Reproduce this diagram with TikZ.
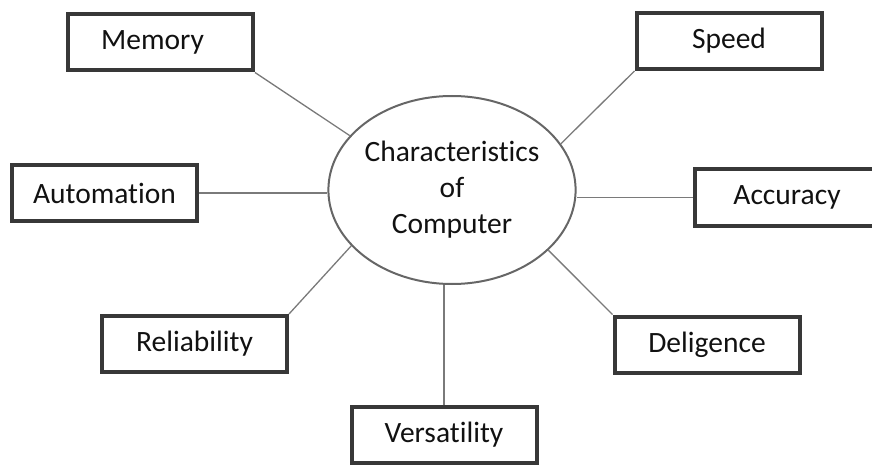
\documentclass[tikz,border=0pt]{standalone}
\usepackage{fontspec}
\setmainfont{Carlito}[Ligatures={NoCommon}]
\usetikzlibrary{shapes.geometric}
\definecolor{boxline}{HTML}{383838}
\definecolor{linkline}{HTML}{7A7A7A}
\definecolor{ovalline}{HTML}{666666}
\definecolor{inktext}{HTML}{111111}
\tikzset{
  charbox/.style={draw=boxline, line width=4pt, minimum width=185pt, minimum height=56pt,
    inner sep=0pt, text=inktext, font=\fontsize{29.5}{36}\selectfont},
  charoval/.style={ellipse, draw=ovalline, line width=2pt, minimum width=246pt, minimum height=188pt,
    inner sep=0pt, align=center, text=inktext, font=\fontsize{29.5}{36}\selectfont},
  link/.style={draw=linkline, line width=1.3pt}
}

\begin{document}
\begin{tikzpicture}[x=1pt, y=-1pt]
\useasboundingbox (0,0) rectangle (872,465);
\clip (0,0) rectangle (872,465);
% centre
\node[charoval] (char) at (452,190) {Characteristics\\of\\Computer};
% the seven characteristics
\node[charbox] (memory) at (160.5,42.5) {Memory\kern16pt};
\node[charbox] (speed) at (729,41) {Speed};
\node[charbox] (automation) at (104.5,193) {Automation};
\node[charbox] (accuracy) at (787,197.5) {Accuracy};
\node[charbox] (reliability) at (194.5,344) {Reliability};
\node[charbox] (deligence) at (707,344.5) {Deligence};
\node[charbox] (versatility) at (444,435) {Versatility};
% connectors
\draw[link] (memory.south east) -- (char.152.5);
\draw[link] (speed.south west) -- (char.23);
\draw[link] (automation.east) -- (char.west |- automation.east);
\draw[link] (accuracy.west) -- (char.east |- accuracy.west);
\draw[link] (reliability.north east) -- (char.209.4);
\draw[link] (deligence.north west) -- (char.328.5);
\draw[link] (versatility.north) -- (versatility.north |- char.south);
\end{tikzpicture}
\end{document}
